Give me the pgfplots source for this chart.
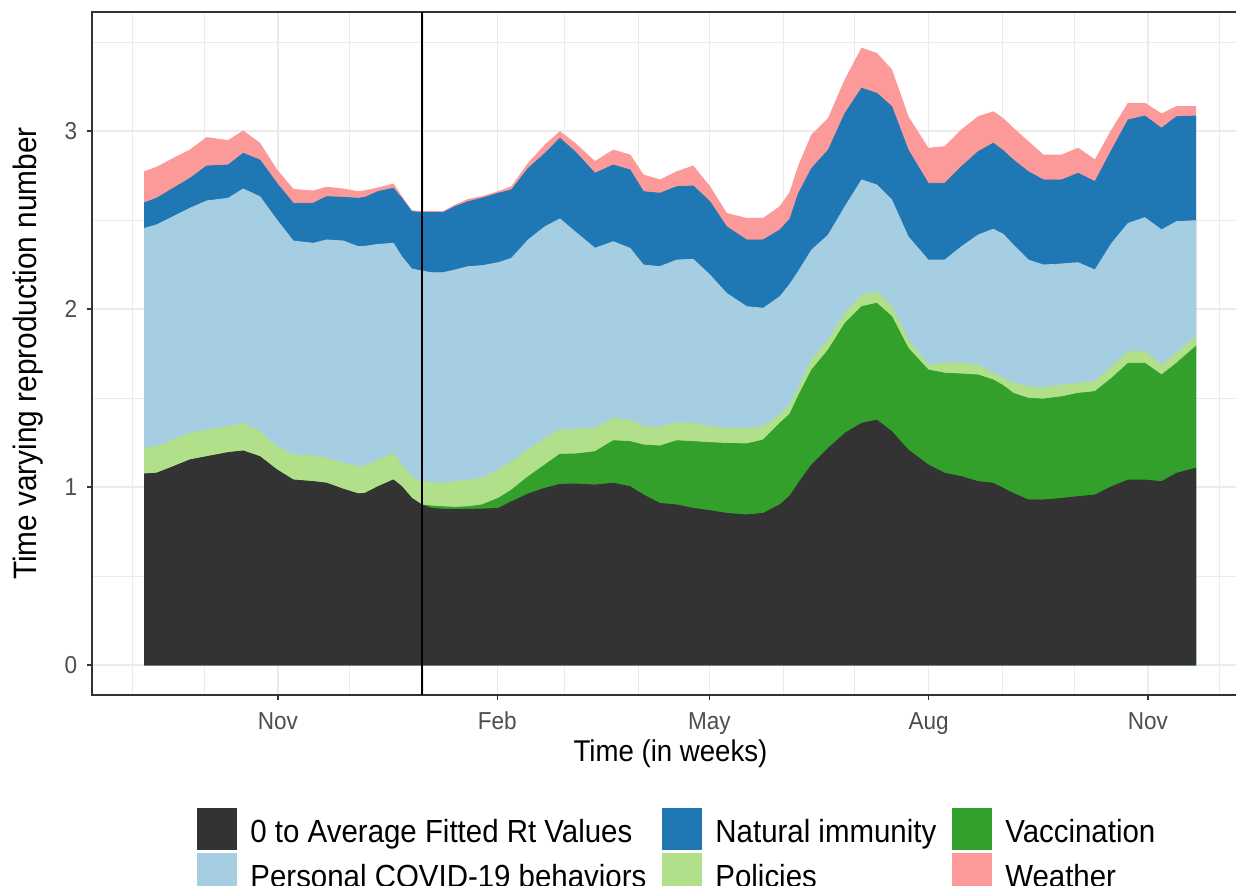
\documentclass[border=0pt]{standalone}
\usepackage{pgfplots}
\pgfplotsset{compat=1.18}
\usepackage{pgfplotstable}
\usepackage{fontspec}
\setmainfont{Liberation Sans}[FakeStretch=0.92]

\definecolor{cK}{HTML}{333333}
\definecolor{cV}{HTML}{33A02C}
\definecolor{cP}{HTML}{B2DF8A}
\definecolor{cLB}{HTML}{A6CEE3}
\definecolor{cB}{HTML}{1F78B4}
\definecolor{cW}{HTML}{FB9A99}
\definecolor{gridc}{HTML}{EBEBEB}
\definecolor{g20}{HTML}{333333}
\definecolor{g30}{HTML}{4D4D4D}

% d = days since 1 Nov 2020; cumulative tops of the stacked areas
% T = Weather top, B = Natural immunity top, LB = Personal behaviors top,
% G = Policies top, V = Vaccination top, K = 0 to average fitted Rt
\pgfplotstableread{
d      T      B      LB     G      V      K
-56    2.771  2.597  2.453  1.217  1.073  1.073
-50.9  2.796  2.622  2.472  1.227  1.077  1.077
-43.9  2.846  2.678  2.519  1.264  1.114  1.114
-36.9  2.893  2.734  2.566  1.302  1.152  1.152
-29.9  2.963  2.803  2.607  1.320  1.170  1.170
-20.9  2.946  2.809  2.622  1.339  1.193  1.193
-14.6  3.000  2.874  2.674  1.358  1.202  1.202
-7.6   2.931  2.837  2.631  1.311  1.170  1.170
-0.5   2.781  2.706  2.500  1.227  1.096  1.096
6.4    2.672  2.594  2.382  1.180  1.039  1.039
14.8   2.663  2.594  2.369  1.176  1.030  1.030
20.4   2.684  2.631  2.388  1.161  1.021  1.021
27.4   2.674  2.627  2.382  1.133  0.987  0.987
33.7   2.659  2.622  2.350  1.114  0.961  0.961
36.5   2.665  2.627  2.352  1.118  0.964  0.964
42.1   2.680  2.660  2.363  1.152  1.002  1.002
48.4   2.702  2.678  2.369  1.189  1.039  1.039
51.9   2.631  2.622  2.294  1.124  1.002  1.002
56.1   2.552  2.547  2.225  1.058  0.936  0.936
60.3   2.547  2.542  2.213  1.030  0.899  0.899
64.5   2.547  2.542  2.204  1.024  0.893  0.880
69.3   2.547  2.542  2.204  1.021  0.889  0.875
74.3   2.584  2.575  2.219  1.030  0.886  0.875
79.8   2.616  2.603  2.238  1.039  0.889  0.875
85.5   2.631  2.622  2.243  1.049  0.899  0.876
92.4   2.659  2.650  2.260  1.096  0.936  0.880
98.0   2.687  2.669  2.285  1.142  0.983  0.917
105.0  2.818  2.790  2.388  1.208  1.058  0.961
112.0  2.921  2.874  2.462  1.274  1.124  0.993
118.3  2.996  2.958  2.506  1.320  1.184  1.015
124.6  2.931  2.884  2.434  1.324  1.185  1.017
133.0  2.828  2.762  2.341  1.330  1.198  1.011
140.7  2.893  2.809  2.378  1.386  1.260  1.021
147.7  2.865  2.781  2.341  1.376  1.255  1.002
153.3  2.753  2.659  2.247  1.339  1.236  0.955
160.3  2.725  2.650  2.238  1.335  1.230  0.908
167.3  2.771  2.687  2.275  1.361  1.260  0.899
174.2  2.803  2.691  2.279  1.358  1.255  0.880
181.2  2.687  2.603  2.191  1.339  1.249  0.867
188.2  2.537  2.462  2.088  1.330  1.245  0.852
196.6  2.509  2.388  2.013  1.330  1.242  0.843
203.6  2.509  2.388  2.004  1.339  1.264  0.852
210.6  2.575  2.444  2.069  1.405  1.358  0.900
214.8  2.655  2.505  2.140  1.460  1.410  0.950
218.3  2.800  2.646  2.210  1.550  1.510  1.020
223.9  2.978  2.790  2.331  1.713  1.657  1.124
230.9  3.071  2.893  2.416  1.826  1.770  1.217
237.9  3.287  3.099  2.575  1.976  1.919  1.302
244.9  3.465  3.240  2.725  2.079  2.013  1.358
251.2  3.436  3.212  2.697  2.097  2.032  1.376
257.5  3.343  3.137  2.612  2.013  1.957  1.311
264.4  3.080  2.893  2.406  1.826  1.779  1.208
272.8  2.903  2.706  2.275  1.685  1.657  1.124
279.8  2.912  2.706  2.275  1.695  1.639  1.077
286.8  3.006  2.800  2.350  1.698  1.635  1.058
293.8  3.080  2.884  2.416  1.685  1.629  1.030
300.1  3.108  2.931  2.448  1.639  1.601  1.021
304.2  3.070  2.890  2.420  1.610  1.570  0.993
308.5  3.015  2.837  2.360  1.583  1.526  0.964
314.8  2.940  2.771  2.275  1.564  1.498  0.927
321.1  2.865  2.725  2.247  1.558  1.494  0.927
328.8  2.865  2.725  2.253  1.573  1.507  0.936
335.7  2.903  2.762  2.260  1.583  1.526  0.946
342.8  2.837  2.715  2.219  1.592  1.536  0.955
349.8  3.006  2.893  2.369  1.676  1.611  1.002
356.7  3.156  3.062  2.481  1.760  1.695  1.039
363.7  3.156  3.084  2.513  1.760  1.695  1.039
370.7  3.096  3.015  2.444  1.685  1.629  1.030
377.0  3.137  3.080  2.491  1.751  1.695  1.077
385    3.137  3.084  2.496  1.845  1.789  1.105
}\rtdata

\begin{document}
\begin{tikzpicture}
\path[use as bounding box] (0pt,0pt) rectangle (618pt,443pt);
\begin{axis}[
  at={(46pt,95.5pt)}, anchor=south west,
  scale only axis, width=578.5pt, height=341.5pt,
  xmin=-78.03, xmax=407.4, ymin=-0.1685, ymax=3.6685,
  axis line style={g20, line width=0.9pt},
  xtick={0,92,181,273,365}, xticklabels={Nov,Feb,May,Aug,Nov},
  minor xtick={-61,-31,30,61,120,151,212,242,304,334,395},
  ytick={0,1,2,3}, minor ytick={0.5,1.5,2.5,3.5},
  grid=both,
  major grid style={gridc, line width=0.55pt},
  minor grid style={gridc, line width=0.3pt},
  tick align=outside, major tick length=2.5pt, minor tick length=0pt,
  tick style={g20, line width=0.55pt},
  tick pos=left,
  /pgf/number format/assume math mode=true,
  ticklabel style={font=\fontsize{12.25}{14}\selectfont, text=g30, inner sep=0pt},
  xticklabel style={anchor=base, yshift=-15pt},
  yticklabel style={anchor=east, xshift=-4.7pt},
  xlabel={Time (in weeks)},
  ylabel={Time varying reproduction number},
  xlabel style={font=\fontsize{15}{18}\selectfont, at={(axis description cs:0.5,-0.086)}, anchor=center},
  ylabel style={font=\fontsize{16.2}{18}\selectfont, at={(axis description cs:-0.0553,0.5)}, anchor=center},
  legend columns=3,
  legend cell align=left,
  legend image code/.code={\fill[#1] (0pt,-8.8pt) rectangle (20pt,12.2pt); \path (26.5pt,0pt);},
  legend style={at={(axis description cs:0.0908,-0.1654)}, anchor=north west,
    draw=none, fill=none, inner sep=0pt, font=\fontsize{16}{19}\selectfont,
    nodes={inner sep=0pt}, row sep=1.5pt,
    /tikz/every even column/.append style={column sep=8pt}},
]
\addplot[fill=cW, draw=cW, line width=0.4pt, forget plot] table[x=d, y=T] {\rtdata} \closedcycle;
\addplot[fill=cB, draw=cB, line width=0.4pt, forget plot] table[x=d, y=B] {\rtdata} \closedcycle;
\addplot[fill=cLB, draw=cLB, line width=0.4pt, forget plot] table[x=d, y=LB] {\rtdata} \closedcycle;
\addplot[fill=cP, draw=cP, line width=0.4pt, forget plot] table[x=d, y=G] {\rtdata} \closedcycle;
\addplot[fill=cV, draw=cV, line width=0.4pt, forget plot] table[x=d, y=V] {\rtdata} \closedcycle;
\addplot[fill=cK, draw=cK, line width=0.4pt, forget plot] table[x=d, y=K] {\rtdata} \closedcycle;
\addplot[black, line width=0.8pt, forget plot] coordinates {(60.3,-0.1685) (60.3,3.6685)};

\addlegendimage{fill=cK, draw=none}
\addlegendentry{0 to Average Fitted Rt Values}
\addlegendimage{fill=cB, draw=none}
\addlegendentry{Natural immunity}
\addlegendimage{fill=cV, draw=none}
\addlegendentry{Vaccination}
\addlegendimage{fill=cLB, draw=none}
\addlegendentry{Personal COVID-19 behaviors}
\addlegendimage{fill=cP, draw=none}
\addlegendentry{Policies}
\addlegendimage{fill=cW, draw=none}
\addlegendentry{Weather}
\end{axis}
\end{tikzpicture}
\end{document}
